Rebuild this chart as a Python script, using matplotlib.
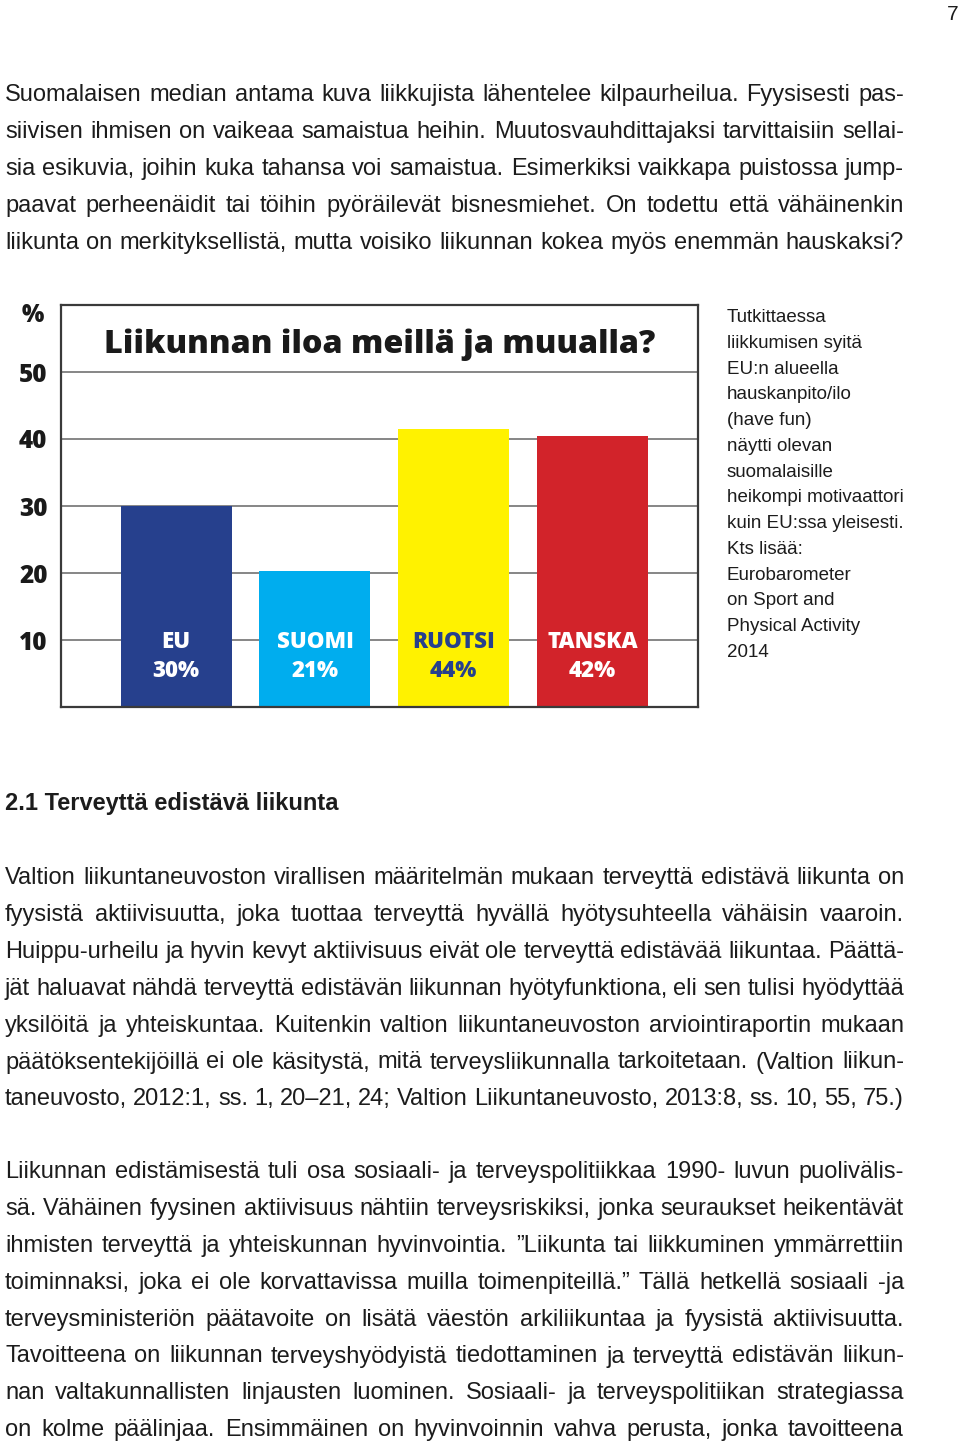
import matplotlib
matplotlib.use("Agg")
import matplotlib.pyplot as plt
import matplotlib.transforms as mtransforms

# ---------------- data ----------------
categories = ["EU", "SUOMI", "RUOTSI", "TANSKA"]
bar_heights = [30, 20.3, 41.5, 40.5]      # bar tops as drawn in the figure
label_values = [30, 21, 44, 42]           # printed percentages
bar_colors = ["#26408d", "#00adee", "#fff200", "#d2232a"]
label_colors = ["white", "white", "#26408d", "white"]
y_ticks = [10, 20, 30, 40, 50]
y_tick_labels = ["10", "20", "30", "40", "50"]
chart_title = "Liikunnan iloa meillä ja muualla?"

side_note = ["Tutkittaessa", "liikkumisen syitä", "EU:n alueella",
             "hauskanpito/ilo", "(have fun)", "näytti olevan",
             "suomalaisille", "heikompi motivaattori",
             "kuin EU:ssa yleisesti.", "Kts lisää:", "Eurobarometer",
             "on Sport and", "Physical Activity", "2014"]

para1 = [
    "Suomalaisen median antama kuva liikkujista lähentelee kilpaurheilua. Fyysisesti pas-",
    "siivisen ihmisen on vaikeaa samaistua heihin. Muutosvauhdittajaksi tarvittaisiin sellai-",
    "sia esikuvia, joihin kuka tahansa voi samaistua. Esimerkiksi vaikkapa puistossa jump-",
    "paavat perheenäidit tai töihin pyöräilevät bisnesmiehet. On todettu että vähäinenkin",
    "liikunta on merkityksellistä, mutta voisiko liikunnan kokea myös enemmän hauskaksi?",
]
heading = "2.1 Terveyttä edistävä liikunta"
para2 = [
    "Valtion liikuntaneuvoston virallisen määritelmän mukaan terveyttä edistävä liikunta on",
    "fyysistä aktiivisuutta, joka tuottaa terveyttä hyvällä hyötysuhteella vähäisin vaaroin.",
    "Huippu-urheilu ja hyvin kevyt aktiivisuus eivät ole terveyttä edistävää liikuntaa. Päättä-",
    "jät haluavat nähdä terveyttä edistävän liikunnan hyötyfunktiona, eli sen tulisi hyödyttää",
    "yksilöitä ja yhteiskuntaa. Kuitenkin valtion liikuntaneuvoston arviointiraportin mukaan",
    "päätöksentekijöillä ei ole käsitystä, mitä terveysliikunnalla tarkoitetaan.  (Valtion liikun-",
    "taneuvosto, 2012:1, ss. 1, 20–21, 24; Valtion Liikuntaneuvosto, 2013:8, ss. 10, 55, 75.)",
]
para3 = [
    "Liikunnan edistämisestä tuli osa sosiaali- ja terveyspolitiikkaa 1990- luvun puolivälis-",
    "sä. Vähäinen fyysinen aktiivisuus nähtiin terveysriskiksi, jonka seuraukset heikentävät",
    "ihmisten terveyttä ja yhteiskunnan hyvinvointia. ”Liikunta tai liikkuminen ymmärrettiin",
    "toiminnaksi, joka ei ole korvattavissa muilla toimenpiteillä.” Tällä hetkellä sosiaali -ja",
    "terveysministeriön päätavoite on lisätä väestön arkiliikuntaa ja fyysistä aktiivisuutta.",
    "Tavoitteena on liikunnan terveyshyödyistä tiedottaminen ja terveyttä edistävän liikun-",
    "nan valtakunnallisten linjausten luominen. Sosiaali- ja terveyspolitiikan strategiassa",
    "on kolme päälinjaa. Ensimmäinen on hyvinvoinnin vahva perusta, jonka tavoitteena",
]

# ---------------- figure ----------------
W, H = 960, 1444
BODY = ["Liberation Sans", "DejaVu Sans"]
HEAVY = ["Open Sans", "Roboto", "DejaVu Sans"]
HEAVY_W = 800
TXT = "#1c1c1c"

fig = plt.figure(figsize=(W / 100, H / 100), dpi=100)
fig.patch.set_facecolor("white")
renderer = fig.canvas.get_renderer()


def fx(x):
    return x / W


def fy(y):
    return 1 - y / H


def justify(line, y_base, size=17, weight="normal", x0=5, x1=904):
    words = [w for w in line.split(" ") if w]
    widths = []
    for w in words:
        t = fig.text(0, 0, w, fontsize=size, family=BODY, fontweight=weight)
        widths.append(t.get_window_extent(renderer).width)
        t.remove()
    gap = (x1 - x0 - sum(widths)) / (len(words) - 1)
    x = x0
    for w, wd in zip(words, widths):
        fig.text(fx(x), fy(y_base), w, fontsize=size, family=BODY,
                 fontweight=weight, color=TXT, ha="left", va="baseline")
        x += wd + gap


# page number
fig.text(fx(958), fy(20), "7", fontsize=15, family=BODY, color=TXT,
         ha="right", va="baseline")

# paragraph 1
for i, line in enumerate(para1):
    justify(line, 101 + i * 37)

# heading
fig.text(fx(5), fy(810), heading, fontsize=17, family=BODY, fontweight="bold",
         color=TXT, ha="left", va="baseline")

for i, line in enumerate(para2):
    justify(line, 884 + i * 36.9)

for i, line in enumerate(para3):
    justify(line, 1178 + i * 36.9)

# ---------------- chart ----------------
ax = fig.add_axes([fx(61), fy(707), (698 - 61) / W, (707 - 305) / H])
x = list(range(len(categories)))
ax.bar(x, bar_heights, width=0.8, color=bar_colors, zorder=2, linewidth=0)
ax.set_xlim(-0.83, 3.76)
ax.set_ylim(0, 60)
ax.set_yticks(y_ticks)
ax.set_yticklabels(y_tick_labels)
ax.set_xticks([])
ax.yaxis.grid(True, color="#7d7d7d", linewidth=1.3, zorder=1)
ax.set_axisbelow(True)
ax.tick_params(axis="y", length=0, pad=20)
for lab in ax.get_yticklabels():
    lab.set_horizontalalignment("center")
    lab.set_fontsize(17.5)
    lab.set_fontweight(HEAVY_W)
    lab.set_family(HEAVY)
    lab.set_color("#1a1a1a")
for s in ax.spines.values():
    s.set_color("#3a3a3a")
    s.set_linewidth(1.6)

trans = mtransforms.blended_transform_factory(ax.transAxes, ax.transData)
ax.text(-0.044, 58.5, "%", transform=trans, ha="center", va="center",
        fontsize=17, fontweight=HEAVY_W, family=HEAVY, color="#1a1a1a")

ax.text(0.0675, 1 - (353 - 305) / 402, chart_title, transform=ax.transAxes,
        ha="left", va="baseline", fontsize=23.3, fontweight=HEAVY_W,
        family=HEAVY, color="#1a1a1a")

for i, (cat, val) in enumerate(zip(categories, label_values)):
    ax.text(i, (707 - 648) / 6.7, cat, ha="center", va="baseline",
            fontsize=16, fontweight=HEAVY_W, family=HEAVY, color=label_colors[i])
    ax.text(i, (707 - 677) / 6.7, f"{val}%", ha="center", va="baseline",
            fontsize=16, fontweight=HEAVY_W, family=HEAVY, color=label_colors[i])

# side note
for i, line in enumerate(side_note):
    fig.text(fx(727), fy(322 + i * 25.77), line, fontsize=13.5, family=BODY,
             color=TXT, ha="left", va="baseline")

fig.savefig("out.png", dpi=100)
